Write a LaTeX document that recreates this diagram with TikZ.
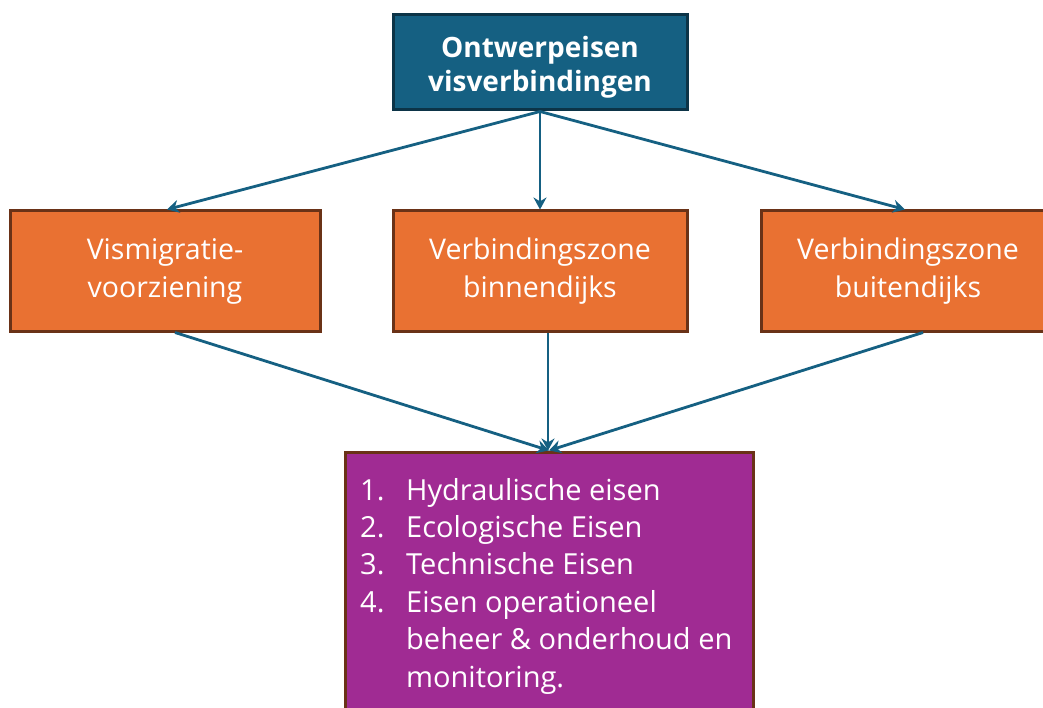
\documentclass[tikz,border=0pt]{standalone}
\usepackage{fontspec}
\setmainfont{Open Sans}
\usetikzlibrary{arrows.meta}
\definecolor{teal1}{HTML}{156082}
\definecolor{tealedge}{HTML}{0C3447}
\definecolor{orange1}{HTML}{E97132}
\definecolor{brownedge}{HTML}{6A3217}
\definecolor{purple1}{HTML}{A02B93}
\tikzset{
  box/.style={rectangle, draw, line width=3pt, text=white, align=center, inner sep=0pt},
  titlebox/.style={box, fill=teal1, draw=tealedge, minimum width=294pt, minimum height=95pt,
    font=\bfseries\fontsize{28}{34}\selectfont},
  zonebox/.style={box, fill=orange1, draw=brownedge, minimum height=120pt,
    font=\fontsize{28.5}{38}\selectfont},
  reqbox/.style={box, fill=purple1, draw=brownedge, minimum width=408pt, minimum height=280pt},
  link/.style={draw=teal1, line width=2.8pt, -{Stealth[length=12pt,width=13pt]}}
}
\begin{document}
\begin{tikzpicture}[x=1pt,y=-1pt]
\useasboundingbox (0,0) rectangle (1043,708);
\clip (0,0) rectangle (1043,708);
\fill[white] (0,0) rectangle (1043,708);

\node[titlebox] (top) at (540,62.5) {\rule{0pt}{30pt}Ontwerpeisen\\visverbindingen};

\node[zonebox, minimum width=310pt] (left) at (165,271) {Vismigratie-\\voorziening};
\node[zonebox, minimum width=294pt] (mid) at (540,271) {Verbindingszone\\binnendijks};
\node[zonebox, minimum width=294pt] (right) at (908,271) {Verbindingszone\\buitendijks};

\node[reqbox] (req) at (549,592) {};
\node[anchor=base west, inner sep=0pt, text=white, font=\fontsize{29}{37.4}\selectfont] (list) at (360,500)
  {\begin{tabular}[t]{@{}p{46pt}@{}l@{}}
   1. & Hydraulische eisen\\
   2. & Ecologische Eisen\\
   3. & Technische Eisen\\
   4. & Eisen operationeel\\
      & beheer \& onderhoud en\\
      & monitoring.
   \end{tabular}};

\draw[link] (top.south) -- ([xshift=2pt]left.north);
\draw[link] (top.south) -- (mid.north);
\draw[link] (top.south) -- ([xshift=-3pt]right.north);

\draw[link] ([xshift=10pt]left.south) -- (req.north);
\draw[link] ([xshift=8pt]mid.south) -- ([xshift=-1pt]req.north);
\draw[link] ([xshift=15pt]right.south) -- (req.north);
\end{tikzpicture}
\end{document}
